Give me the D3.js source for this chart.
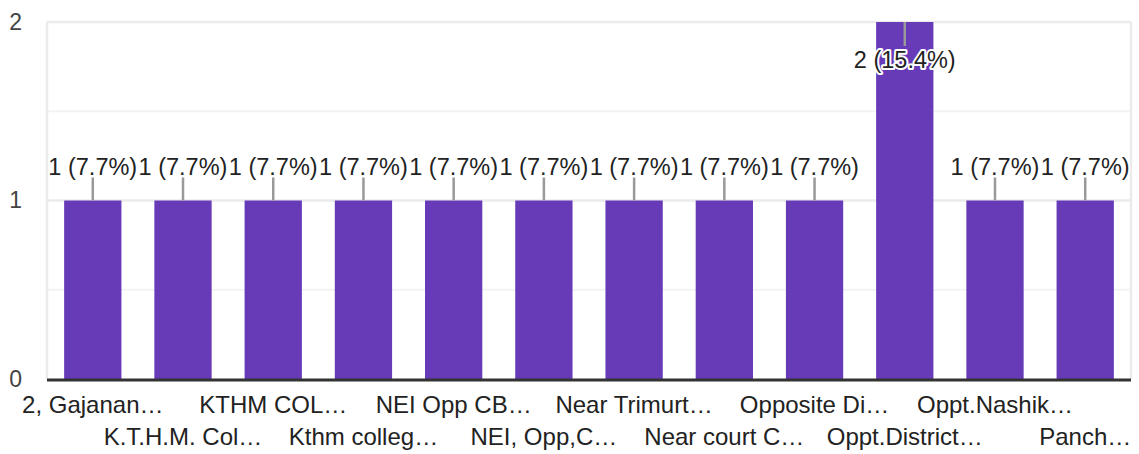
<!DOCTYPE html>
<html>
<head>
<meta charset="utf-8">
<script src="https://cdn.jsdelivr.net/npm/d3@7"></script>
<style>
  html, body { margin: 0; padding: 0; background: #fff; }
  svg { display: block; font-family: Arial, "Liberation Sans", sans-serif; }
</style>
</head>
<body>
<svg id="chart" width="1139" height="454"></svg>
<script>
// Responses per location
const categories = [
  "2, Gajanan…", "K.T.H.M. Col…", "KTHM COL…", "Kthm colleg…",
  "NEI Opp CB…", "NEI, Opp,C…", "Near Trimurt…", "Near court C…",
  "Opposite Di…", "Oppt.District…", "Oppt.Nashik…", "Panch…"
];
const counts = [1, 1, 1, 1, 1, 1, 1, 1, 1, 2, 1, 1];
const yTicks = [0, 1, 2];
const gridValues = [0.5, 1, 1.5, 2];

const total = d3.sum(counts);
const fmtPct = v => `${v} (${(v / total * 100).toFixed(1)}%)`;

const W = 1139, H = 454;
const margin = { left: 47, right: 8, top: 22, bottom: 75 };
const FONT = "Arial, 'Liberation Sans', sans-serif";

const svg = d3.select("#chart");

const x = d3.scaleBand()
  .domain(d3.range(categories.length))
  .range([margin.left, W - margin.right])
  .paddingInner(0.365)
  .paddingOuter(0.19);

const y = d3.scaleLinear()
  .domain([0, 2])
  .range([H - margin.bottom, margin.top]);

// Plot frame and grid
svg.append("g")
  .selectAll("line")
  .data(gridValues)
  .join("line")
  .attr("x1", margin.left)
  .attr("x2", W - margin.right)
  .attr("y1", d => y(d))
  .attr("y2", d => y(d))
  .attr("stroke", d => Number.isInteger(d) ? "#ebebeb" : "#f3f3f3")
  .attr("stroke-width", d => Number.isInteger(d) ? 2.5 : 2);

svg.append("g")
  .selectAll("line")
  .data([margin.left, W - margin.right])
  .join("line")
  .attr("x1", d => d).attr("x2", d => d)
  .attr("y1", y(2)).attr("y2", y(0))
  .attr("stroke", "#ebebeb")
  .attr("stroke-width", 2.5);

// Y axis labels
const yAxis = d3.axisLeft(y).tickValues(yTicks).tickFormat(d3.format("d")).tickSize(0).tickPadding(25);
svg.append("g")
  .attr("transform", `translate(${margin.left},0)`)
  .call(yAxis)
  .call(g => g.select(".domain").remove())
  .call(g => g.attr("font-size", null).attr("font-family", null))
  .call(g => g.selectAll("text")
    .style("font-size", "23px")
    .style("font-family", FONT)
    .attr("fill", "#444")
    .attr("text-anchor", "end"));

// Bars
svg.append("g")
  .selectAll("rect")
  .data(counts)
  .join("rect")
  .attr("x", (d, i) => x(i))
  .attr("width", x.bandwidth())
  .attr("y", d => y(d))
  .attr("height", d => y(0) - y(d))
  .attr("fill", "#673ab7");

// Baseline
svg.append("line")
  .attr("x1", margin.left).attr("x2", W - margin.right)
  .attr("y1", y(0) + 1).attr("y2", y(0) + 1)
  .attr("stroke", "#333")
  .attr("stroke-width", 3);

// Value annotations with leader stems
const ann = svg.append("g");
counts.forEach((v, i) => {
  const cx = x(i) + x.bandwidth() / 2;
  const top = y(v);
  const inside = top - margin.top < 30;
  const stemTop = inside ? top : top - 23;
  const stemBottom = inside ? top + 24 : top;
  const baseline = inside ? top + 46 : top - 25.5;
  ann.append("line")
    .attr("x1", cx).attr("x2", cx)
    .attr("y1", stemTop).attr("y2", stemBottom)
    .attr("stroke", "#999")
    .attr("stroke-width", 2.5);
  ann.append("text")
    .attr("x", cx)
    .attr("y", baseline)
    .attr("text-anchor", "middle")
    .style("font-size", "23.5px")
    .style("font-family", FONT)
    .attr("fill", "#222")
    .attr("stroke", "#fff")
    .attr("stroke-width", 4)
    .attr("stroke-linejoin", "round")
    .attr("paint-order", "stroke")
    .text(fmtPct(v));
});

// Category labels in two staggered rows
const xAxis = d3.axisBottom(x).tickFormat(i => categories[i]).tickSize(0);
svg.append("g")
  .attr("transform", `translate(0,${y(0)})`)
  .call(xAxis)
  .call(g => g.select(".domain").remove())
  .call(g => g.attr("font-size", null).attr("font-family", null))
  .call(g => g.selectAll(".tick text")
    .style("font-size", "24px")
    .style("font-family", FONT)
    .attr("fill", "#222")
    .attr("dy", null)
    .attr("y", i => i % 2 === 0 ? 34 : 66));
</script>
</body>
</html>
